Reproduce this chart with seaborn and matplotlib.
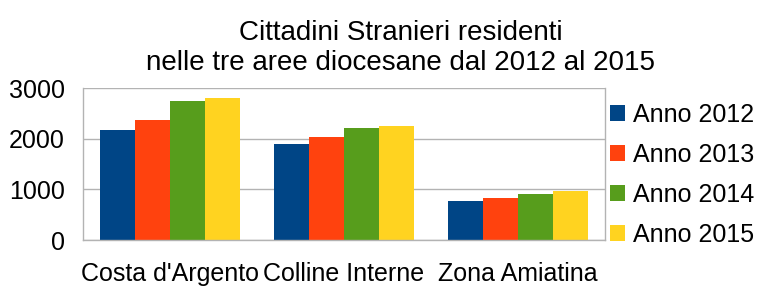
import matplotlib
matplotlib.use("Agg")
import matplotlib.pyplot as plt
import seaborn as sns
import pandas as pd
from matplotlib.patches import Patch

areas = ["Costa d'Argento", "Colline Interne", "Zona Amiatina"]
years = ["Anno 2012", "Anno 2013", "Anno 2014", "Anno 2015"]
v2012 = [2170, 1895, 770]
v2013 = [2365, 2030, 830]
v2014 = [2745, 2210, 905]
v2015 = [2800, 2250, 965]
colors = ["#004586", "#ff420e", "#579d1c", "#ffd320"]
yticks = [0, 1000, 2000, 3000]
title1 = "Cittadini Stranieri residenti"
title2 = "nelle tre aree diocesane dal 2012 al 2015"

rows = []
for y, vals in zip(years, [v2012, v2013, v2014, v2015]):
    for a, v in zip(areas, vals):
        rows.append({"area": a, "anno": y, "valore": v})
df = pd.DataFrame(rows)

sns.set_style("white")
plt.rcParams['font.family'] = ['Liberation Sans', 'DejaVu Sans']
plt.rcParams['text.color'] = 'black'
plt.rcParams['xtick.labelcolor'] = 'black'
plt.rcParams['ytick.labelcolor'] = 'black'

fig = plt.figure(figsize=(7.58, 2.86), dpi=100)
ax = fig.add_axes([83/758, 1-240/286, (605-83)/758, (240-88)/286])
sns.barplot(data=df, x="area", y="valore", hue="anno", order=areas, hue_order=years,
            palette=colors, saturation=1, width=0.8, errorbar=None, ax=ax, legend=False,
            linewidth=0)
ax.set_xlim(-0.5, 2.5)
ax.set_ylim(0, 3000)
ax.set_yticks(yticks)
ax.set_xlabel("")
ax.set_ylabel("")
ax.grid(axis="y", color="#b3b3b3", lw=1)
ax.set_axisbelow(True)
ax.spines["top"].set_visible(False)
for s in ["left", "right", "bottom"]:
    ax.spines[s].set_color("#b3b3b3")
    ax.spines[s].set_linewidth(1)
ax.tick_params(axis="y", length=7.2, width=1, color="#b3b3b3", pad=6, labelsize=18, labelcolor="black")
ax.tick_params(axis="x", which="major", length=0, pad=16, labelsize=18, labelcolor="black")
ax.set_xticks([0.5, 1.5], minor=True)
ax.tick_params(axis="x", which="minor", length=7.2, width=1, color="#b3b3b3")

fig.text(401/758, 1-40/286, title1, ha="center", va="baseline", fontsize=20, color="black")
fig.text(401/758, 1-70/286, title2, ha="center", va="baseline", fontsize=20, color="black")

handles = [Patch(facecolor=c, edgecolor="none") for c in colors]
fig.legend(handles, years, loc="center left", bbox_to_anchor=(610/758, 1-174.5/286),
           bbox_transform=fig.transFigure, frameon=False, fontsize=18,
           handlelength=0.6, handleheight=0.6, handletextpad=0.32,
           labelspacing=0.64, borderpad=0, borderaxespad=0)

fig.savefig("out.png", dpi=100)
